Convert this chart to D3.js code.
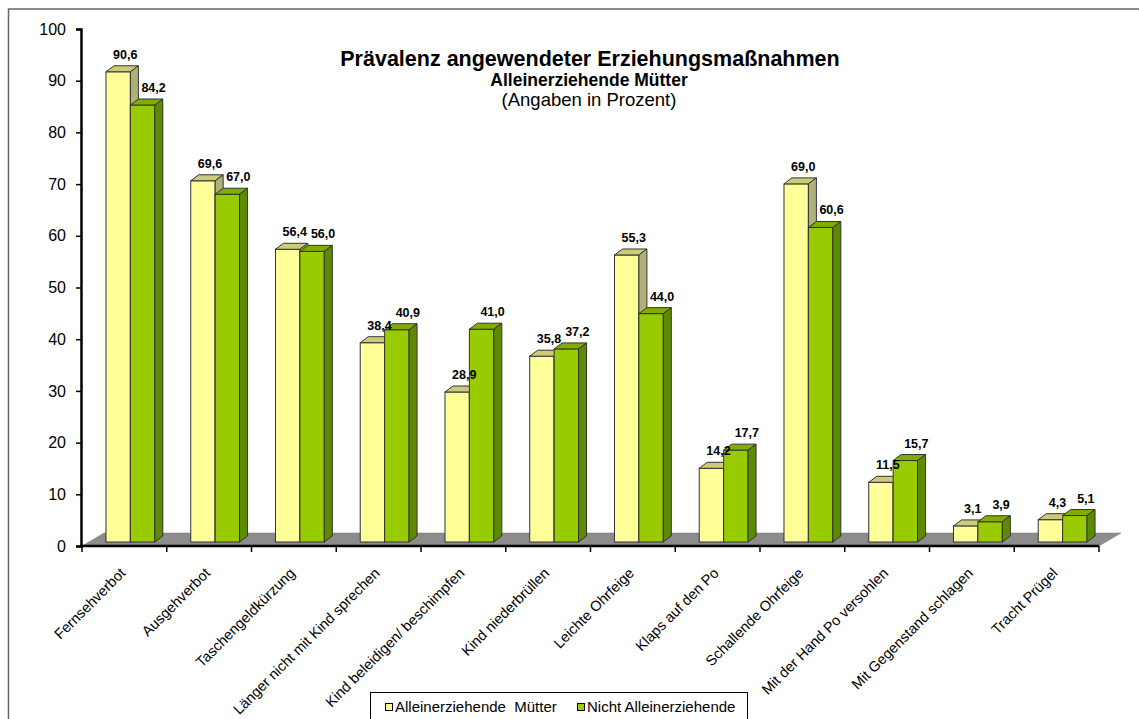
<!DOCTYPE html>
<html>
<head>
<meta charset="utf-8">
<script src="https://cdn.jsdelivr.net/npm/d3@7"></script>
<style>
  body { margin: 0; background: #fff; }
  svg { display: block; font-family: "Liberation Sans", Arial, sans-serif; }
</style>
</head>
<body>
<svg id="canvas" width="1139" height="719"></svg>
<script>
var categories = ["Fernsehverbot", "Ausgehverbot", "Taschengeldkürzung", "Länger nicht mit Kind sprechen",
  "Kind beleidigen/ beschimpfen", "Kind niederbrüllen", "Leichte Ohrfeige", "Klaps auf den Po",
  "Schallende Ohrfeige", "Mit der Hand Po versohlen", "Mit Gegenstand schlagen", "Tracht Prügel"];
var alleinerziehend = [90.6, 69.6, 56.4, 38.4, 28.9, 35.8, 55.3, 14.2, 69.0, 11.5, 3.1, 4.3];
var nichtAllein = [84.2, 67.0, 56.0, 40.9, 41.0, 37.2, 44.0, 17.7, 60.6, 15.7, 3.9, 5.1];
var yTicks = [0, 10, 20, 30, 40, 50, 60, 70, 80, 90, 100];
var seriesNames = ["Alleinerziehende  Mütter", "Nicht Alleinerziehende"];

var svg = d3.select("#canvas");

// outer frame
svg.append("rect").attr("x", 8.5).attr("y", 9).attr("width", 1140).attr("height", 720)
  .attr("fill", "#fff").attr("stroke", "#666").attr("stroke-width", 1.5);

var x = d3.scaleBand().domain(categories).range([82, 1099]);
var yAxisScale = d3.scaleLinear().domain([0, 100]).range([546, 29]);
var yBar = d3.scaleLinear().domain([0, 100]).range([542, 23]);

var dx = 8, dy = -6;       // bar depth
var fdx = 22, fdy = -13;   // floor depth

// floor
svg.append("path")
  .attr("d", "M82,546 L1099,546 L" + (1099 + fdx) + "," + (546 + fdy) + " L" + (82 + fdx) + "," + (546 + fdy) + " Z")
  .attr("fill", "#8c8c8c").attr("stroke", "#777").attr("stroke-width", 0.5);

// y axis
var yAxis = d3.axisLeft(yAxisScale).tickValues(yTicks).tickSize(5).tickPadding(10);
var gy = svg.append("g").attr("transform", "translate(81,0)").call(yAxis);
gy.select(".domain").attr("stroke", "#000").attr("stroke-width", 2.5);
gy.selectAll(".tick line").attr("stroke", "#000").attr("stroke-width", 1.5);
gy.selectAll(".tick text").style("font-size", "16px").style("font-family", "Liberation Sans, Arial, sans-serif").attr("fill", "#000");

// x axis line and ticks at band edges
svg.append("line").attr("x1", 80).attr("x2", 1099).attr("y1", 546).attr("y2", 546)
  .attr("stroke", "#000").attr("stroke-width", 2.5);
var edges = categories.map(function(c) { return x(c); }).concat([1099]);
svg.selectAll(".xtick").data(edges).enter().append("line")
  .attr("class", "xtick")
  .attr("x1", function(d) { return d; }).attr("x2", function(d) { return d; })
  .attr("y1", 546).attr("y2", 552)
  .attr("stroke", "#000").attr("stroke-width", 1.5);

var bw = x.bandwidth();
var barW = bw * 0.288;
var offs = bw * 0.283;

function drawBar(g, x0, v, cFront, cTop, cSide) {
  var top = yBar(v), base = yBar(0);
  g.append("rect").attr("x", x0).attr("y", top).attr("width", barW).attr("height", base - top)
    .attr("fill", cFront).attr("stroke", "#333").attr("stroke-width", 1);
  g.append("path")
    .attr("d", "M" + x0 + "," + top + " L" + (x0 + dx) + "," + (top + dy) + " L" + (x0 + barW + dx) + "," + (top + dy) +
      " L" + (x0 + barW) + "," + top + " Z")
    .attr("fill", cTop).attr("stroke", "#333").attr("stroke-width", 1);
  g.append("path")
    .attr("d", "M" + (x0 + barW) + "," + top + " L" + (x0 + barW + dx) + "," + (top + dy) + " L" + (x0 + barW + dx) + "," + (base + dy) +
      " L" + (x0 + barW) + "," + base + " Z")
    .attr("fill", cSide).attr("stroke", "#333").attr("stroke-width", 1);
}

var bars = svg.append("g");
categories.forEach(function(c, i) {
  var xa = x(c) + offs;
  var xb = xa + barW;
  var g = bars.append("g");
  drawBar(g, xa, alleinerziehend[i], "#ffff99", "#cccc77", "#b0b07a");
  drawBar(g, xb, nichtAllein[i], "#99cc00", "#80ad00", "#5c8a00");
});

// value labels
function fmt(v) { return v.toFixed(1).replace(".", ","); }
svg.selectAll(".lblA").data(alleinerziehend).enter().append("text")
  .attr("class", "lblA")
  .attr("x", function(d, i) { return x(categories[i]) + offs + barW / 2 + 7; })
  .attr("y", function(d) { return yBar(d) - 13; })
  .attr("text-anchor", "middle").style("font-size", "12.5px").style("font-weight", "bold")
  .text(fmt);
svg.selectAll(".lblB").data(nichtAllein).enter().append("text")
  .attr("class", "lblB")
  .attr("x", function(d, i) { return x(categories[i]) + offs + barW * 1.5 + 11; })
  .attr("y", function(d) { return yBar(d) - 13; })
  .attr("text-anchor", "middle").style("font-size", "12.5px").style("font-weight", "bold")
  .text(fmt);

// category labels
svg.selectAll(".cat").data(categories).enter().append("text")
  .attr("class", "cat")
  .attr("transform", function(d) { return "translate(" + (x(d) + bw / 2 + 2) + ",574) rotate(-45)"; })
  .attr("text-anchor", "end").style("font-size", "14.5px")
  .text(function(d) { return d; });

// titles
svg.append("text").attr("x", 590).attr("y", 66).attr("text-anchor", "middle")
  .style("font-size", "21.5px").style("font-weight", "bold")
  .text("Prävalenz angewendeter Erziehungsmaßnahmen");
svg.append("text").attr("x", 589).attr("y", 86).attr("text-anchor", "middle")
  .style("font-size", "17.5px").style("font-weight", "bold")
  .text("Alleinerziehende Mütter");
svg.append("text").attr("x", 589).attr("y", 106).attr("text-anchor", "middle")
  .style("font-size", "18.5px")
  .text("(Angaben in Prozent)");

// legend
var lg = svg.append("g");
lg.append("rect").attr("x", 370.5).attr("y", 692.5).attr("width", 377).attr("height", 32)
  .attr("fill", "#fff").attr("stroke", "#000").attr("stroke-width", 1);
var legendX = [385, 577];
var legendCol = ["#ffff99", "#99cc00"];
seriesNames.forEach(function(s, i) {
  lg.append("rect").attr("x", legendX[i] + 0.5).attr("y", 703.5).attr("width", 7).attr("height", 7)
    .attr("fill", legendCol[i]).attr("stroke", "#000").attr("stroke-width", 1);
  lg.append("text").attr("x", legendX[i] + 10).attr("y", 712)
    .style("font-size", "15px").style("white-space", "pre").attr("xml:space", "preserve")
    .text(s);
});
</script>
</body>
</html>
